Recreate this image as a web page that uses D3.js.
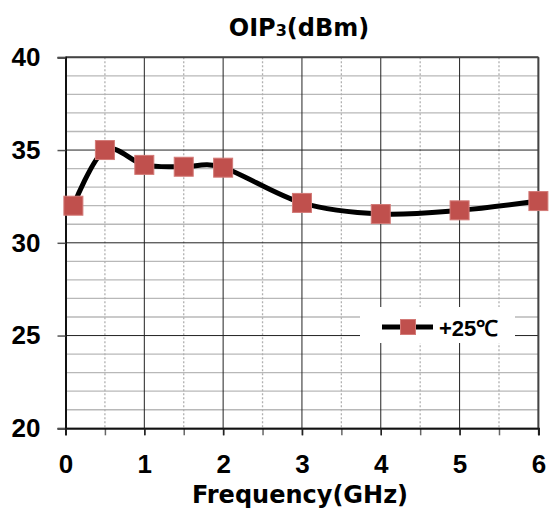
<!DOCTYPE html>
<html>
<head>
<meta charset="utf-8">
<script src="https://cdn.jsdelivr.net/npm/d3@7"></script>
<style>
  html, body { margin: 0; padding: 0; background: #fff; }
  svg { display: block; }
  .num { font-family: "Liberation Sans", Arial, sans-serif; font-weight: bold; }
  .ver { font-family: "DejaVu Sans", Verdana, sans-serif; font-weight: bold; }
</style>
</head>
<body>
<svg id="chart" width="549" height="509"></svg>
<script>
// ---- data ----
const frequencies = [0.1, 0.5, 1, 1.5, 2, 3, 4, 5, 6];
const oip3Values = [32.0, 35.0, 34.2, 34.1, 34.05, 32.15, 31.55, 31.75, 32.25];
const seriesName = "+25\u2103";
const xTicks = [0, 1, 2, 3, 4, 5, 6];
const yTicks = [20, 25, 30, 35, 40];
const titleMain = "OIP";
const titleSub = "3";
const titleRest = "(dBm)";
const xTitle = "Frequency(GHz)";

const W = 549, H = 509;
const margin = { left: 65.5, top: 57.3, right: 10.6, bottom: 80.7 };
const pw = W - margin.left - margin.right;
const ph = H - margin.top - margin.bottom;

const svg = d3.select("#chart");
const g = svg.append("g").attr("transform", `translate(${margin.left},${margin.top})`);

const x = d3.scaleLinear().domain([0, 6]).range([0, pw]);
const y = d3.scaleLinear().domain([20, 40]).range([ph, 0]);

// minor horizontal grid (every 1)
const yMinor = d3.range(21, 40, 1).filter(v => v % 5 !== 0);
g.append("g").selectAll("line").data(yMinor).join("line")
  .attr("x1", 0).attr("x2", pw)
  .attr("y1", d => y(d)).attr("y2", d => y(d))
  .attr("stroke", "#b8b8b8").attr("stroke-width", 1.3);

// minor vertical grid (halves), dotted
const xMinor = d3.range(0.5, 6, 1);
g.append("g").selectAll("line").data(xMinor).join("line")
  .attr("x1", d => x(d)).attr("x2", d => x(d))
  .attr("y1", 0).attr("y2", ph)
  .attr("stroke", "#b0b0b0").attr("stroke-width", 1.3)
  .attr("stroke-dasharray", "2,2");

// major grid
g.append("g").selectAll("line").data(yTicks).join("line")
  .attr("x1", 0).attr("x2", pw)
  .attr("y1", d => y(d)).attr("y2", d => y(d))
  .attr("stroke", "#222").attr("stroke-width", 1);
g.append("g").selectAll("line").data(xTicks).join("line")
  .attr("x1", d => x(d)).attr("x2", d => x(d))
  .attr("y1", 0).attr("y2", ph)
  .attr("stroke", "#222").attr("stroke-width", 1);

// borders
g.append("line").attr("x1", 0).attr("x2", pw).attr("y1", 0).attr("y2", 0)
  .attr("stroke", "#444").attr("stroke-width", 2);
g.append("line").attr("x1", pw).attr("x2", pw).attr("y1", 0).attr("y2", ph)
  .attr("stroke", "#444").attr("stroke-width", 2);

// axes
const yAxis = d3.axisLeft(y).tickValues(yTicks).tickSize(8).tickPadding(17).tickFormat(d3.format("d"));
const yg = g.append("g").call(yAxis).attr("font-family", null).attr("font-size", null);
yg.select(".domain").attr("stroke", "#111").attr("stroke-width", 2);
yg.selectAll(".tick line").attr("stroke", "#555").attr("stroke-width", 1.5);
yg.selectAll("text").attr("class", "num").style("font-size", "26px").attr("fill", "#000");

const xAxisMinor = d3.axisBottom(x).tickValues(d3.range(0, 6.01, 0.5)).tickSize(7).tickFormat("");
const xgm = g.append("g").attr("transform", `translate(0,${ph})`).call(xAxisMinor);
xgm.select(".domain").remove();
xgm.selectAll(".tick line").attr("stroke", "#666").attr("stroke-width", 1.5);

const xAxis = d3.axisBottom(x).tickValues(xTicks).tickSize(7).tickPadding(19).tickFormat(d3.format("d"));
const xg = g.append("g").attr("transform", `translate(0,${ph})`).call(xAxis).attr("font-family", null).attr("font-size", null);
xg.select(".domain").attr("stroke", "#111").attr("stroke-width", 2);
xg.selectAll(".tick line").attr("stroke", "#222").attr("stroke-width", 1.5);
xg.selectAll("text").attr("class", "num").style("font-size", "26px").attr("fill", "#000");

// series line
const pts = frequencies.map((f, i) => [f, oip3Values[i]]);
const line = d3.line().x(d => x(d[0])).y(d => y(d[1])).curve(d3.curveCatmullRom.alpha(0));
g.append("path").datum(pts).attr("d", line)
  .attr("fill", "none").attr("stroke", "#000").attr("stroke-width", 5)
  .attr("stroke-linejoin", "round");

// markers
const ms = 19;
g.append("g").selectAll("rect").data(pts).join("rect")
  .attr("x", d => x(d[0]) - ms / 2).attr("y", d => y(d[1]) - ms / 2)
  .attr("width", ms).attr("height", ms)
  .attr("fill", "#c0504d").attr("stroke", "#d37a77").attr("stroke-width", 1);

// legend
const lg = svg.append("g").attr("transform", "translate(360,307)");
lg.append("rect").attr("x", 0).attr("y", 0).attr("width", 155).attr("height", 36).attr("fill", "#fff");
lg.append("line").attr("x1", 22).attr("x2", 73).attr("y1", 20).attr("y2", 20)
  .attr("stroke", "#000").attr("stroke-width", 5);
lg.append("rect").attr("x", 48 - 7.5).attr("y", 20 - 7.5).attr("width", 15).attr("height", 15)
  .attr("fill", "#c0504d").attr("stroke", "#d37a77").attr("stroke-width", 1);
lg.append("text").attr("x", 79).attr("y", 29).attr("class", "num")
  .style("font-size", "22px").text(seriesName);

// title
const t = svg.append("text").attr("x", 299).attr("y", 36).attr("text-anchor", "middle")
  .attr("class", "ver").style("font-size", "24px");
t.append("tspan").text(titleMain);
t.append("tspan").style("font-size", "16px").text(titleSub);
t.append("tspan").text(titleRest);

// x axis title
svg.append("text").attr("x", 300).attr("y", 503).attr("text-anchor", "middle")
  .attr("class", "ver").style("font-size", "24px").text(xTitle);
</script>
</body>
</html>
